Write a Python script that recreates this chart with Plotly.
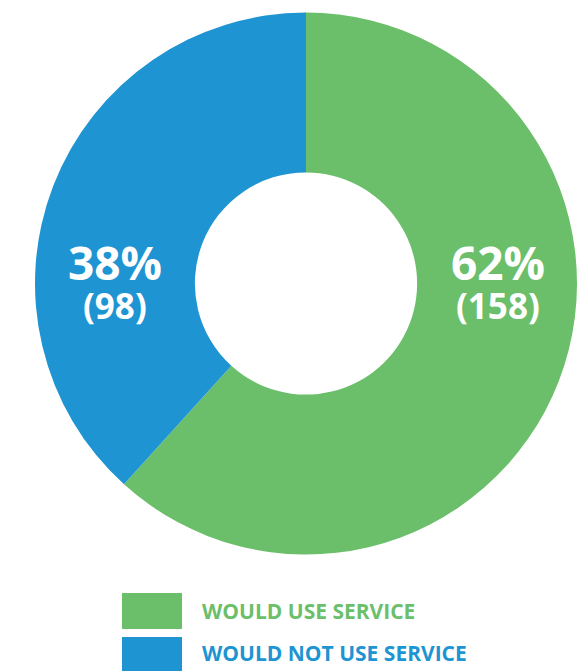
import plotly.graph_objects as go

categories = ["WOULD USE SERVICE", "WOULD NOT USE SERVICE"]
counts = [158, 98]
colors = ["#6BBF6A", "#1E94D2"]

W, H = 577, 671
total = sum(counts)
pcts = [round(100 * c / total) for c in counts]

def px(x):
    return x / W

def py(y):
    return 1 - y / H

fig = go.Figure(go.Pie(
    labels=categories,
    values=counts,
    marker=dict(colors=colors, line=dict(width=0)),
    hole=0.41,
    sort=False,
    direction="clockwise",
    rotation=0,
    textinfo="none",
    hoverinfo="label+value+percent",
    domain=dict(x=[px(35), 1.0], y=[py(556), py(11)]),
    showlegend=False,
))

font_family = "Open Sans, Lato, sans-serif"
label_pos = [(498, 262, 305), (115, 262, 305)]
annotations = []
for (cx, y1, y2), p, c in zip(label_pos, pcts, counts):
    annotations.append(dict(x=px(cx), y=py(y1), xref="paper", yref="paper",
                            text=f"<b>{p}%</b>", showarrow=False,
                            font=dict(family=font_family, size=46, color="white"),
                            xanchor="center", yanchor="middle"))
    annotations.append(dict(x=px(cx), y=py(y2), xref="paper", yref="paper",
                            text=f"<b>({c})</b>", showarrow=False,
                            font=dict(family=font_family, size=35, color="white"),
                            xanchor="center", yanchor="middle"))

shapes = []
legend_rows = [(593, 629, 611), (637, 673, 653)]
for (y0, y1, yc), cat, col in zip(legend_rows, categories, colors):
    shapes.append(dict(type="rect", xref="paper", yref="paper",
                       x0=px(122), x1=px(182), y0=py(y1), y1=py(y0),
                       fillcolor=col, line=dict(width=0)))
    annotations.append(dict(x=px(200), y=py(yc), xref="paper", yref="paper",
                            text=f"<b>{cat}</b>", showarrow=False,
                            font=dict(family=font_family, size=21, color=col),
                            xanchor="left", yanchor="middle"))

fig.update_layout(
    width=W, height=H,
    margin=dict(l=0, r=0, t=0, b=0),
    paper_bgcolor="white",
    plot_bgcolor="white",
    annotations=annotations,
    shapes=shapes,
)

fig.write_html("out.html")
